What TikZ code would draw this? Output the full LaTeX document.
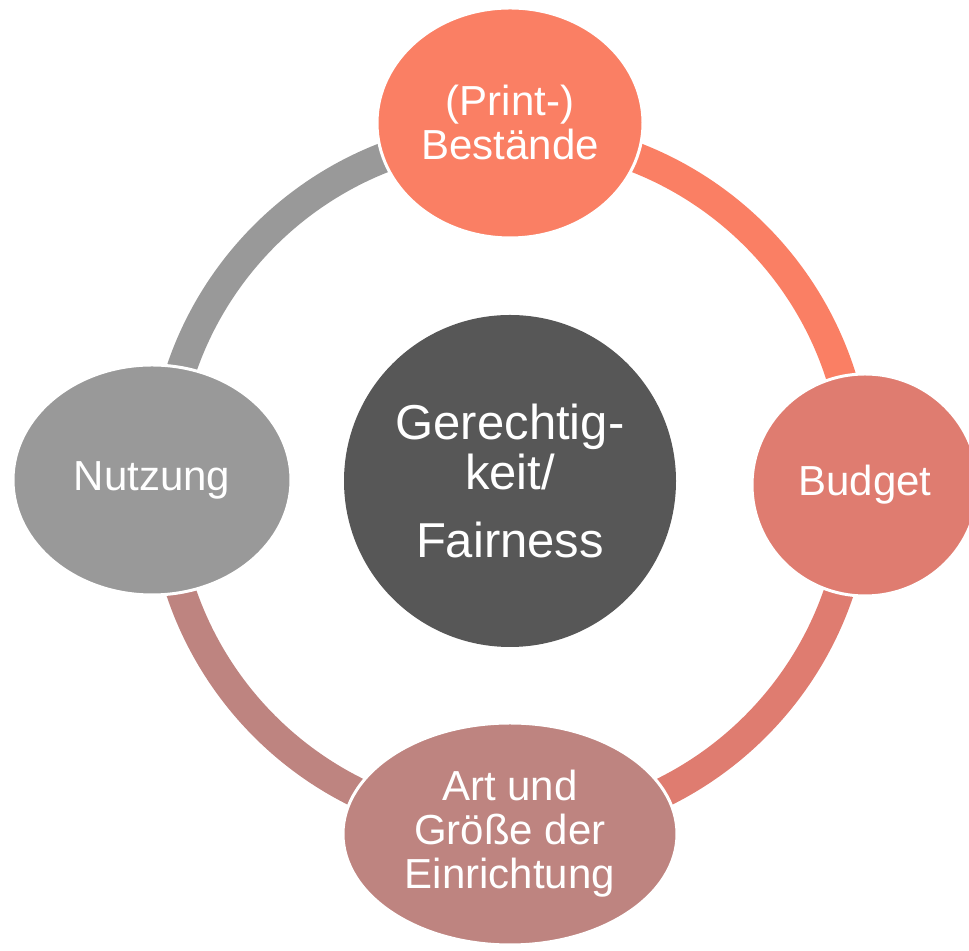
\documentclass[tikz,border=0pt]{standalone}
\usepackage{fontspec}
\setmainfont{Liberation Sans}
\usetikzlibrary{shapes.geometric}
\definecolor{lachs}{HTML}{FA7F64}
\definecolor{rosa}{HTML}{DF7C70}
\definecolor{altrosa}{HTML}{BE8480}
\definecolor{grau}{HTML}{999999}
\definecolor{dunkel}{HTML}{575757}
\begin{document}
\begin{tikzpicture}[x=0.5pt,y=0.5pt,
  kreis/.style={ellipse, draw=white, line width=1.5pt, text=white, align=center,
    inner sep=0pt, font=\fontsize{21}{22}\selectfont},
  ring/.style={line width=15pt}]
  \useasboundingbox (0,0) rectangle (969,951);
  \coordinate(m) at (510,470);
  \draw[ring,lachs] (m) ++(90:173.5pt) arc (90:0:173.5pt);% oben nach rechts
  \draw[ring,rosa] (m) ++(0:173.5pt) arc (0:-90:173.5pt);% rechts nach unten
  \draw[ring,altrosa] (m) ++(-90:173.5pt) arc (-90:-180:173.5pt);% unten nach links
  \draw[ring,grau] (m) ++(180:173.5pt) arc (180:90:173.5pt);% links nach oben
  \node[kreis, fill=lachs, minimum width=133pt, minimum height=115pt] (bestand) at (510,828) {(Print-)\\Bestände};
  \node[kreis, fill=rosa, minimum width=113pt, minimum height=111pt] (budget) at (865,466) {Budget};
  \node[kreis, fill=altrosa, minimum width=167pt, minimum height=111pt] (art) at (510,117) {Art und\\Größe der\\Einrichtung};
  \node[kreis, fill=grau, minimum width=139pt, minimum height=115pt] (nutzung) at (152,471) {Nutzung};
  \node[circle, fill=dunkel, minimum size=166pt, inner sep=0pt, text=white, align=center,
    font=\fontsize{24.5}{25}\selectfont] (fair) at (m) {Gerechtig-\\keit/\\[9pt]Fairness};
\end{tikzpicture}
\end{document}
